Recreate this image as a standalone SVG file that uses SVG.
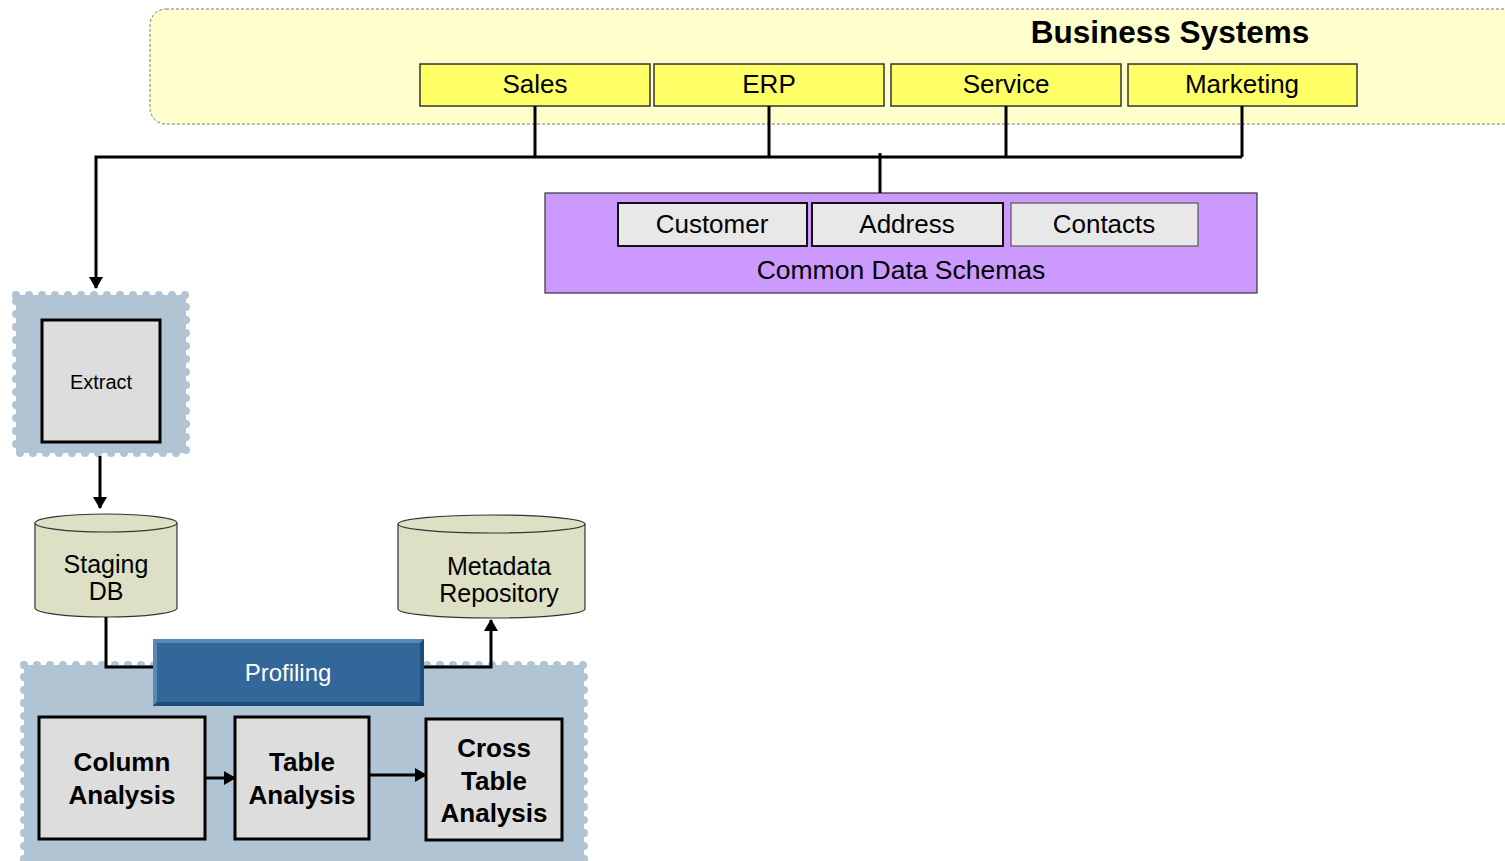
<svg xmlns="http://www.w3.org/2000/svg" width="1505" height="861" viewBox="0 0 1505 861">
<defs>
<style>
text{font-family:"Liberation Sans",Arial,sans-serif;fill:#000;text-anchor:middle}
.sys{fill:#ffff66;stroke:#333;stroke-width:1.5}
.schema{fill:#e8e8e8;stroke:#111;stroke-width:2}
.proc{fill:#dddddd;stroke:#000;stroke-width:3}
.stamp{fill:#b0c4d4;stroke:#b0c4d4;stroke-width:8;stroke-dasharray:0 13;stroke-linecap:round}
.cyl{fill:#dde0c4;stroke:#333;stroke-width:1.2}
.wire{fill:none;stroke:#000;stroke-width:3}
.t26{font-size:26px}
.t25{font-size:25px}
.b26{font-size:26px;font-weight:bold}
</style>
<marker id="ah" viewBox="0 0 12 14" refX="11" refY="7" markerWidth="13" markerHeight="14" markerUnits="userSpaceOnUse" orient="auto">
<path d="M0,0 L12,7 L0,14 Z" fill="#000"/>
</marker>
</defs>

<g id="business-systems">
<rect x="150" y="9" width="1370" height="115" rx="16" fill="#ffffcc" stroke="#777" stroke-width="1" stroke-dasharray="3 2"/>
<text x="1170" y="43" style="font-size:31.5px;font-weight:bold">Business Systems</text>
</g>
<g id="sales"><rect class="sys" x="420" y="64" width="230" height="42"/><text class="t26" x="535" y="93">Sales</text></g>
<g id="erp"><rect class="sys" x="654" y="64" width="230" height="42"/><text class="t26" x="769" y="93">ERP</text></g>
<g id="service"><rect class="sys" x="891" y="64" width="230" height="42"/><text class="t26" x="1006" y="93">Service</text></g>
<g id="marketing"><rect class="sys" x="1128" y="64" width="229" height="42"/><text class="t26" x="1242" y="93">Marketing</text></g>

<g id="common-data-schemas">
<rect x="545" y="193" width="712" height="100" fill="#cc99ff" stroke="#333" stroke-width="1.2"/>
<text x="901" y="279" style="font-size:26.5px">Common Data Schemas</text>
</g>
<g id="customer"><rect class="schema" x="618" y="203" width="189" height="43"/><text class="t26" x="712" y="233">Customer</text></g>
<g id="address"><rect class="schema" x="812" y="203" width="191" height="43"/><text class="t26" x="907" y="233">Address</text></g>
<g id="contacts"><rect x="1011" y="203" width="187" height="43" fill="#e8e8e8" stroke="#555" stroke-width="1.2"/><text class="t26" x="1104" y="233">Contacts</text></g>

<g id="extract-group">
<rect class="stamp" x="16" y="295" width="170" height="158"/>
</g>
<g id="extract"><rect class="proc" x="42" y="320" width="118" height="122"/><text x="101" y="389" style="font-size:20px">Extract</text></g>

<g id="staging-db">
<path class="cyl" d="M35,523 L35,608 A71,9 0 0 0 177,608 L177,523 A71,9 0 0 0 35,523 Z"/>
<path class="cyl" d="M35,523 A71,9 0 0 0 177,523" fill="none"/>
<text class="t25" x="106" y="573">Staging</text>
<text class="t25" x="106" y="600">DB</text>
</g>
<g id="metadata-repository">
<path class="cyl" d="M398,524 L398,609 A93.5,9 0 0 0 585,609 L585,524 A93.5,9 0 0 0 398,524 Z"/>
<path class="cyl" d="M398,524 A93.5,9 0 0 0 585,524" fill="none"/>
<text class="t25" x="499" y="575">Metadata</text>
<text class="t25" x="499" y="602">Repository</text>
</g>

<g id="profiling-group">
<rect class="stamp" x="24" y="665" width="560" height="200"/>
</g>

<g id="connectors">
<path class="wire" d="M535,106 V157 M769,106 V157 M1006,106 V157 M1242,106 V157 M1242,157 H96 V288" marker-end="url(#ah)"/>
<path class="wire" d="M880,153 V193" stroke-width="2.5"/>
<path class="wire" d="M100,456 V508" stroke-width="2.5" marker-end="url(#ah)"/>
<path class="wire" d="M106,617 V667 H155"/>
<path class="wire" d="M422,667 H491 V620" marker-end="url(#ah)"/>
<path class="wire" d="M205,778 H235" marker-end="url(#ah)"/>
<path class="wire" d="M369,775 H426" marker-end="url(#ah)"/>
</g>

<g id="profiling">
<rect x="153" y="639" width="271" height="67" fill="#336699"/>
<path d="M153,639 H424 L420,643 H157 V702 L153,706 Z" fill="#5c86b3"/>
<path d="M424,639 V706 H153 L157,702 H420 V643 Z" fill="#1f4d7a"/>
<text x="288" y="681" style="font-size:24px;fill:#fff">Profiling</text>
</g>
<g id="column-analysis"><rect class="proc" x="39" y="717" width="166" height="122"/><text class="b26" x="122" y="771">Column</text><text class="b26" x="122" y="804">Analysis</text></g>
<g id="table-analysis"><rect class="proc" x="235" y="717" width="134" height="122"/><text class="b26" x="302" y="771">Table</text><text class="b26" x="302" y="804">Analysis</text></g>
<g id="cross-table-analysis"><rect class="proc" x="426" y="719" width="136" height="121"/><text class="b26" x="494" y="757">Cross</text><text class="b26" x="494" y="790">Table</text><text class="b26" x="494" y="822">Analysis</text></g>
</svg>
